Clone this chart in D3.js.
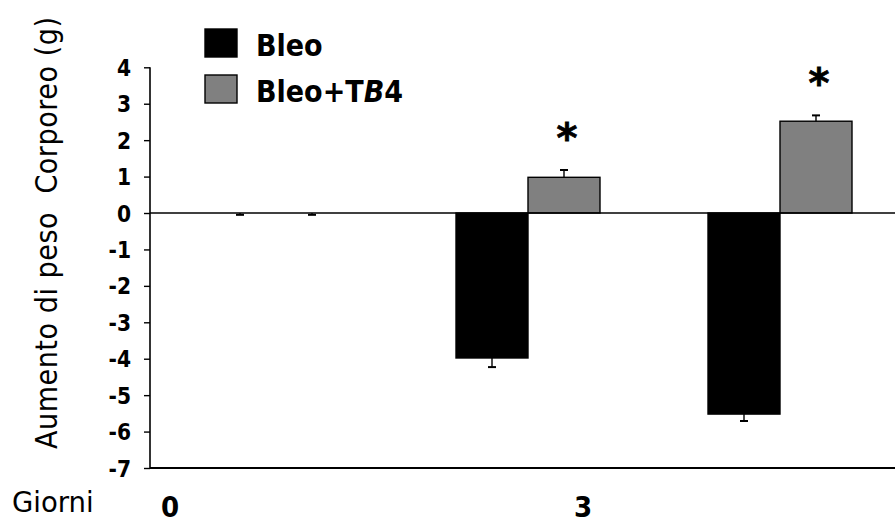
<!DOCTYPE html>
<html>
<head>
<meta charset="utf-8">
<script src="https://cdn.jsdelivr.net/npm/d3@7"></script>
<style>
  html, body { margin: 0; padding: 0; background: #fff; }
  svg { display: block; }
</style>
</head>
<body>
<div id="chart"></div>
<script>
// Body-weight change (g) by day, bleomycin alone vs bleomycin + Tβ4
const days = ["0", "3", "7"];
const series = ["Bleo", "Bleo+TB4"];
const bleoValues = [0, -3.98, -5.52];
const bleoErrors = [0.05, 0.25, 0.19];
const tb4Values = [0, 0.98, 2.52];
const tb4Errors = [0.05, 0.20, 0.16];
const significant = [false, true, true];
const yTicks = [4, 3, 2, 1, 0, -1, -2, -3, -4, -5, -6, -7];
const dayLabels = [0, 3];

const width = 895, height = 524;
const colors = { "Bleo": "#000000", "Bleo+TB4": "#808080" };

const svg = d3.select("#chart").append("svg")
  .attr("width", width).attr("height", height);

const y = d3.scaleLinear().domain([-7, 4]).range([468, 67.3]);
const x0 = d3.scaleBand().domain(days).range([150, 906])
  .paddingInner(0.4286).paddingOuter(0.2143);
const x1 = d3.scaleBand().domain(series).range([0, x0.bandwidth()]);

const rows = days.map((d, i) => ({
  day: d,
  bars: [
    { s: "Bleo", v: bleoValues[i], e: bleoErrors[i] },
    { s: "Bleo+TB4", v: tb4Values[i], e: tb4Errors[i] }
  ],
  sig: significant[i]
}));

// error tip: upward for gains, downward otherwise
const tip = d => d.v > 0 ? d.v + d.e : d.v - d.e;

// y axis (plain hyphen for negatives)
const yAxis = d3.axisLeft(y).tickValues(yTicks).tickSize(6).tickPadding(13)
  .tickFormat(d => String(d));
const gy = svg.append("g").attr("transform", "translate(150,0)").call(yAxis);
gy.select(".domain").attr("stroke", "#000").attr("stroke-width", 1.6)
  .attr("d", `M0,${y(4)}V${y(-7)}`);
gy.selectAll(".tick line").attr("stroke", "#000").attr("stroke-width", 1.4);
gy.selectAll(".tick text")
  .attr("font-family", "'DejaVu Sans Condensed', 'DejaVu Sans', sans-serif")
  .attr("font-weight", "bold").attr("font-size", 22.5).attr("fill", "#000")
  .attr("dy", "0.36em");

// bars
const groups = svg.append("g").selectAll("g").data(rows).join("g")
  .attr("transform", d => `translate(${x0(d.day)},0)`);

groups.selectAll("rect").data(d => d.bars.filter(b => b.v !== 0)).join("rect")
  .attr("x", d => x1(d.s))
  .attr("width", x1.bandwidth())
  .attr("y", d => y(Math.max(0, d.v)))
  .attr("height", d => Math.abs(y(d.v) - y(0)))
  .attr("fill", d => colors[d.s])
  .attr("stroke", "#000").attr("stroke-width", 1.4);

// one-sided error bars
const capW = 8;
const cx = d => x1(d.s) + x1.bandwidth() / 2;
const err = groups.selectAll("g.err").data(d => d.bars).join("g").attr("class", "err");
err.append("line")
  .attr("x1", cx).attr("x2", cx)
  .attr("y1", d => y(d.v)).attr("y2", d => y(tip(d)))
  .attr("stroke", "#000").attr("stroke-width", 1.4);
err.append("line")
  .attr("x1", d => cx(d) - capW / 2).attr("x2", d => cx(d) + capW / 2)
  .attr("y1", d => y(tip(d))).attr("y2", d => y(tip(d)))
  .attr("stroke", "#000").attr("stroke-width", 2);

// significance marks
groups.filter(d => d.sig).append("text")
  .attr("x", d => cx(d.bars[1]) + 3)
  .attr("y", d => y(tip(d.bars[1])) - 41 + 23)
  .attr("text-anchor", "middle")
  .attr("font-family", "'DejaVu Sans', sans-serif").attr("font-weight", "bold")
  .attr("stroke", "#000").attr("stroke-width", 0.8)
  .attr("font-size", 40).text("*");

// zero line and bottom baseline
svg.append("line").attr("x1", 150).attr("x2", width)
  .attr("y1", y(0)).attr("y2", y(0))
  .attr("stroke", "#000").attr("stroke-width", 1.6);
svg.append("line").attr("x1", 150).attr("x2", width)
  .attr("y1", y(-7)).attr("y2", y(-7))
  .attr("stroke", "#000").attr("stroke-width", 2.2);

// day labels
const xd = d3.scaleLinear().domain([0, 3]).range([170, 583]);
svg.append("g").selectAll("text").data(dayLabels).join("text")
  .attr("x", d => xd(d)).attr("y", 517)
  .attr("text-anchor", "middle")
  .attr("font-family", "'DejaVu Sans Condensed', 'DejaVu Sans', sans-serif")
  .attr("font-weight", "bold").attr("font-size", 29).text(d => d);

svg.append("text").attr("x", 12).attr("y", 512)
  .attr("font-family", "'DejaVu Sans', sans-serif").attr("font-size", 27.5)
  .text("Giorni");

// axis title
svg.append("text")
  .attr("transform", "translate(57,233) rotate(-90)")
  .attr("text-anchor", "middle")
  .attr("font-family", "'DejaVu Sans Condensed', 'DejaVu Sans', sans-serif")
  .attr("font-size", 30)
  .attr("textLength", 432).attr("lengthAdjust", "spacing")
  .attr("xml:space", "preserve")
  .style("white-space", "pre")
  .text("Aumento di peso  Corporeo (g)");

// legend
const legend = svg.append("g").selectAll("g").data(series).join("g")
  .attr("transform", (d, i) => `translate(205,${29 + i * 46})`);
legend.append("rect").attr("width", 32).attr("height", 28)
  .attr("fill", d => colors[d]).attr("stroke", "#000").attr("stroke-width", 1.4);
const lt = legend.append("text").attr("x", 51).attr("y", 27)
  .attr("font-family", "'DejaVu Sans Condensed', 'DejaVu Sans', sans-serif")
  .attr("font-weight", "bold").attr("font-size", 30);
lt.filter(d => d === "Bleo").text("Bleo");
lt.filter(d => d !== "Bleo").each(function () {
  const t = d3.select(this);
  t.append("tspan").text("Bleo+T");
  t.append("tspan").attr("font-style", "italic").text("B");
  t.append("tspan").text("4");
});
</script>
</body>
</html>
